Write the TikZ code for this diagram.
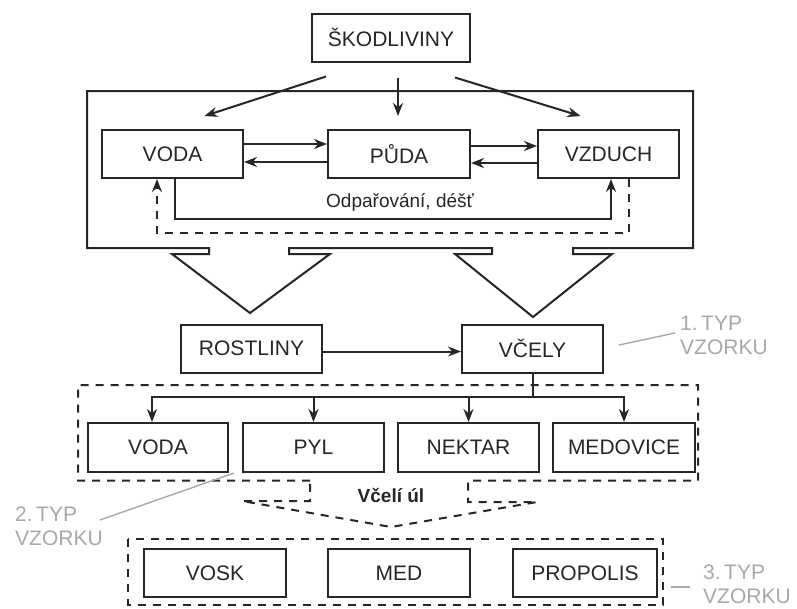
\documentclass[tikz,border=0pt]{standalone}
\usepackage{fontspec}
\setmainfont{Liberation Sans}
\usetikzlibrary{arrows.meta,calc}
\definecolor{ink}{HTML}{262626}
\definecolor{lbl}{HTML}{A8A8A8}
\begin{document}
\begin{tikzpicture}[x=1pt,y=-1pt,
  box/.style={draw=ink,line width=2pt,minimum height=48pt,inner sep=0pt,font=\fontsize{21}{24}\selectfont,text=ink},
  arr/.style={draw=ink,line width=2pt,-{Stealth[length=13pt,width=10pt]}},
  ln/.style={draw=ink,line width=2pt},
  dsh/.style={draw=ink,line width=2pt,dash pattern=on 8pt off 7pt},
  dsharr/.style={dsh,-{Stealth[length=13pt,width=10pt]}},
  glbl/.style={text=lbl,font=\fontsize{21}{24}\selectfont,align=left,inner sep=0pt,anchor=west},
  gline/.style={draw=lbl,line width=1.4pt}]
\useasboundingbox (0,0) rectangle (797,608);
\fill[white] (0,0) rectangle (797,608);

% top part
\node[box,minimum width=158pt] (skod) at (391,37.5) {ŠKODLIVINY};
\node[box,minimum width=141pt] (voda) at (172.5,154) {VODA};
\node[box,minimum width=142pt] (puda) at (399,154) {PŮDA};
\node[box,minimum width=141pt] (vzduch) at (608.5,154) {VZDUCH};

% outer box with two funnels
\draw[ln,line join=miter] (209,248) -- (87,248) -- (87,91) -- (693,91) -- (693,248)
  -- (573,248) -- (573,254) -- (612,254) -- (533,317) -- (455,254) -- (492,254) -- (492,248)
  -- (289,248) -- (289,254) -- (330,254) -- (250,313) -- (172,254) -- (209,254) -- cycle;

\draw[arr] ($(skod.south)+(-65,14)$) -- ($(voda.north)+(32,-13)$);
\draw[arr] ($(skod.south)+(7,15)$) -- ($(puda.north)+(-1,-13)$);
\draw[arr] ($(skod.south)+(64,15)$) -- ($(vzduch.north)+(-28,-13)$);

\draw[arr] ([yshift=10pt]voda.east) -- ([yshift=10pt]puda.west);
\draw[arr] ([yshift=-8pt]puda.west) -- ([yshift=-8pt]voda.east);
\draw[arr] ([yshift=8pt]puda.east) -- ([yshift=8pt]vzduch.west);
\draw[arr] ([yshift=-9pt]vzduch.west) -- ([yshift=-9pt]puda.east);

\draw[arr] ([xshift=2.5pt]voda.south) -- ++(0,40) -| ([xshift=2.5pt]vzduch.south);
\draw[dsharr] ([xshift=20.5pt]vzduch.south) -- ++(0,54) -| ([xshift=-15.5pt]voda.south);
\node[font=\fontsize{19}{22}\selectfont,text=ink] (odp) at (400,202) {Odpařování, déšť};

% middle part
\node[box,minimum width=141pt] (rost) at (251.5,348.5) {ROSTLINY};
\node[box,minimum width=141pt] (vcely) at (532.5,348.5) {VČELY};
\draw[arr] ([yshift=-3pt]rost.east) -- ([yshift=-3pt]vcely.west);

\draw[dsh] (310,480.5) -- (78,480.5) -- (78,385) -- (698,385) -- (698,480.5) -- (468,480.5)
  -- (468,502) -- (537,502) -- (391,527) -- (242,501) -- (310,501) -- cycle;

\node[box,minimum width=140pt,minimum height=49pt] (voda2) at (158,447.5) {VODA};
\node[box,minimum width=141pt,minimum height=49pt] (pyl) at (313.5,447.5) {PYL};
\node[box,minimum width=141pt,minimum height=49pt] (nektar) at (468.5,447.5) {NEKTAR};
\node[box,minimum width=142pt,minimum height=49pt] (medovice) at (624,447.5) {MEDOVICE};

\coordinate (j) at (vcely.south |- 0,397);
\draw[ln] (vcely.south) -- (j);
\draw[arr] (j) -| ([xshift=-6pt]voda2.north);
\draw[arr] (j) -| (pyl.north);
\draw[arr] (j) -| (nektar.north);
\draw[arr] (j) -| (medovice.north);

\node[font=\bfseries\fontsize{19}{22}\selectfont,text=ink] (ul) at (391,495) {Včelí úl};

% bottom part
\draw[dsh] (128,539) rectangle (663,604.5);
\node[box,minimum width=142pt] (vosk) at (215,573) {VOSK};
\node[box,minimum width=142pt] (med) at (399,573) {MED};
\node[box,minimum width=144pt] (propolis) at (585,573) {PROPOLIS};

% grey labels
\node[glbl] (t1) at (680,335.5) {1.\,TYP\\VZORKU};
\node[glbl] (t2) at (15,526) {2.\,TYP\\VZORKU};
\node[glbl] (t3) at (703,584) {3.\,TYP\\VZORKU};
\draw[gline] ($(vcely.east)+(15,-3.5)$) -- ($(t1.west)+(-5,-2.5)$);
\draw[gline] ($(t2.east)+(-3,-6)$) -- ($(pyl.south west)+(-8,0)$);
\draw[gline] ($(t3.west)+(-32,3)$) -- ($(t3.west)+(-13,3)$);
\end{tikzpicture}
\end{document}
